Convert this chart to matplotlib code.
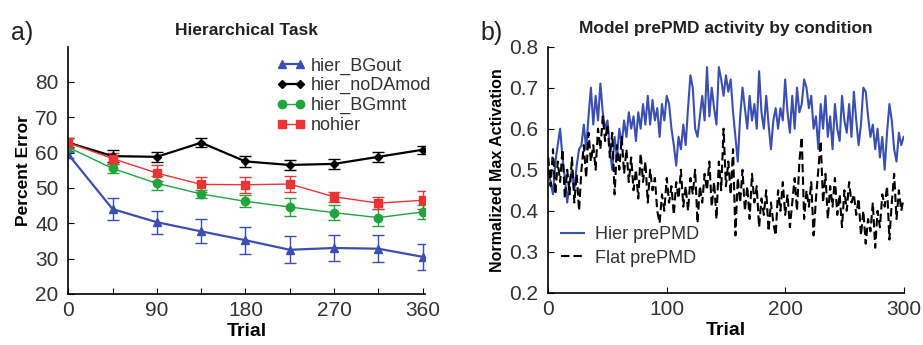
import numpy as np
import matplotlib.pyplot as plt
from matplotlib.lines import Line2D

plt.rcParams['font.family'] = ['Liberation Sans', 'DejaVu Sans']

# ---- panel a data ----
trials_a = [0, 45, 90, 135, 180, 225, 270, 315, 360]
bgout = [59.5, 44.0, 40.3, 37.7, 35.2, 32.5, 33.0, 32.8, 30.5]
bgout_err = [1.0, 3.2, 3.3, 3.4, 3.8, 3.8, 3.8, 3.8, 3.7]
nodamod = [62.8, 59.0, 58.8, 62.8, 57.5, 56.5, 56.8, 58.8, 60.8]
nodamod_err = [1.2, 1.6, 1.4, 1.3, 1.5, 1.5, 1.4, 1.4, 1.1]
bgmnt = [61.5, 55.5, 51.3, 48.3, 46.2, 44.6, 43.0, 41.6, 43.2]
bgmnt_err = [1.2, 1.3, 2.0, 1.2, 1.7, 2.5, 2.2, 2.3, 1.9]
nohier = [62.8, 58.3, 54.2, 51.0, 50.9, 51.1, 47.5, 45.7, 46.5]
nohier_err = [1.4, 1.6, 2.2, 2.2, 2.2, 2.2, 1.4, 1.6, 2.5]

# ---- panel b data (every 2nd trial) ----
trials_b = list(range(0, 301, 2))
hier_act = [0.50, 0.47, 0.44, 0.52, 0.56, 0.60, 0.53, 0.48, 0.42, 0.47,
            0.50, 0.45, 0.51, 0.55, 0.56, 0.61, 0.55, 0.63, 0.70, 0.61,
            0.68, 0.62, 0.71, 0.64, 0.60, 0.62, 0.55, 0.50, 0.58, 0.53,
            0.60, 0.56, 0.62, 0.58, 0.64, 0.60, 0.63, 0.57, 0.64, 0.60,
            0.66, 0.61, 0.68, 0.61, 0.67, 0.62, 0.65, 0.58, 0.66, 0.62,
            0.68, 0.66, 0.60, 0.56, 0.51, 0.58, 0.55, 0.61, 0.56, 0.65,
            0.73, 0.70, 0.60, 0.58, 0.63, 0.68, 0.62, 0.75, 0.63, 0.70,
            0.65, 0.61, 0.75, 0.72, 0.68, 0.73, 0.69, 0.72, 0.64, 0.58,
            0.52, 0.63, 0.70, 0.65, 0.60, 0.68, 0.62, 0.66, 0.60, 0.74,
            0.64, 0.60, 0.68, 0.61, 0.55, 0.62, 0.65, 0.60, 0.65, 0.62,
            0.72, 0.64, 0.59, 0.68, 0.60, 0.70, 0.64, 0.66, 0.72, 0.70,
            0.65, 0.68, 0.60, 0.63, 0.55, 0.66, 0.60, 0.68, 0.58, 0.63,
            0.55, 0.66, 0.60, 0.57, 0.68, 0.62, 0.59, 0.66, 0.58, 0.69,
            0.62, 0.56, 0.61, 0.70, 0.69, 0.63, 0.58, 0.61, 0.55, 0.60,
            0.53, 0.58, 0.50, 0.59, 0.66, 0.62, 0.55, 0.52, 0.59, 0.56,
            0.58]
flat_act = [0.53, 0.46, 0.55, 0.44, 0.52, 0.47, 0.55, 0.43, 0.50, 0.44,
            0.53, 0.42, 0.49, 0.40, 0.50, 0.56, 0.48, 0.59, 0.52, 0.56,
            0.50, 0.60, 0.55, 0.63, 0.57, 0.61, 0.53, 0.59, 0.44, 0.56,
            0.50, 0.58, 0.49, 0.55, 0.47, 0.53, 0.45, 0.50, 0.43, 0.54,
            0.47, 0.52, 0.42, 0.50, 0.45, 0.48, 0.40, 0.37, 0.44, 0.40,
            0.48, 0.42, 0.46, 0.39, 0.47, 0.43, 0.50, 0.41, 0.46, 0.40,
            0.48, 0.44, 0.50, 0.37, 0.46, 0.42, 0.49, 0.45, 0.52, 0.41,
            0.47, 0.38, 0.52, 0.45, 0.60, 0.46, 0.52, 0.44, 0.55, 0.34,
            0.48, 0.42, 0.50, 0.40, 0.46, 0.38, 0.49, 0.42, 0.46, 0.36,
            0.43, 0.39, 0.45, 0.35, 0.42, 0.37, 0.34, 0.45, 0.40, 0.47,
            0.39, 0.44, 0.36, 0.42, 0.48, 0.40, 0.52, 0.58, 0.38, 0.45,
            0.41, 0.47, 0.34, 0.43, 0.50, 0.57, 0.42, 0.49, 0.38, 0.46,
            0.41, 0.48, 0.39, 0.44, 0.36, 0.45, 0.40, 0.47, 0.42, 0.44,
            0.39, 0.43, 0.34, 0.40, 0.32, 0.38, 0.35, 0.42, 0.31, 0.40,
            0.36, 0.44, 0.41, 0.46, 0.33, 0.42, 0.49, 0.38, 0.45, 0.40,
            0.43]

blue = '#3b4fb3'
green = '#1fa53c'
red = '#ec3434'
tick_col = '#333333'

fig = plt.figure(figsize=(9.23, 3.45), dpi=100)
ax1 = fig.add_axes([0.074, 0.148, 0.386, 0.717])
ax2 = fig.add_axes([0.594, 0.151, 0.385, 0.714])

for ax in (ax1, ax2):
    ax.spines['top'].set_visible(False)
    ax.spines['right'].set_visible(False)
    ax.spines['left'].set_linewidth(1.2)
    ax.spines['bottom'].set_linewidth(1.2)
    ax.tick_params(direction='in', length=4, labelsize=15, colors='black',
                   labelcolor=tick_col)
    ax.tick_params(axis='x', pad=5)
    ax.tick_params(axis='y', pad=7)

# panel a
series = [(bgout, bgout_err, blue, '^', 'hier_BGout', 1.6),
          (nodamod, nodamod_err, 'black', 'D', 'hier_noDAmod', 1.6),
          (bgmnt, bgmnt_err, green, 'o', 'hier_BGmnt', 1.0),
          (nohier, nohier_err, red, 's', 'nohier', 1.0)]
handles = []
for vals, err, col, mk, lab, lw in series:
    ms = 4.5 if mk == 'D' else 6
    ax1.errorbar(trials_a, vals, yerr=err, color=col, marker=mk, ms=ms,
                 lw=lw, elinewidth=1.0, capsize=4, capthick=1.0)
    handles.append(Line2D([], [], color=col, marker=mk, ms=ms, lw=lw,
                          label=lab))
ax1.set_xlim(0, 362)
ax1.set_ylim(20, 90)
ax1.set_yticks([20, 30, 40, 50, 60, 70, 80])
ax1.set_xticks(trials_a)
ax1.set_xticklabels(['0', '', '90', '', '180', '', '270', '', '360'])
ax1.set_xlabel('Trial', fontsize=14, fontweight='bold', labelpad=2)
ax1.set_ylabel('Percent Error', fontsize=12.5, fontweight='bold', labelpad=3)
ax1.set_title('Hierarchical Task', fontsize=12.5, fontweight='bold', pad=8,
              color='#222222')
leg = ax1.legend(handles=handles, loc='upper right',
                 bbox_to_anchor=(1.05, 1.0), frameon=False, numpoints=2,
                 fontsize=13, handlelength=1.6, handletextpad=0.3,
                 labelspacing=0.15, borderaxespad=0.2)
for t in leg.get_texts():
    t.set_color(tick_col)
fig.text(0.012, 0.885, 'a)', fontsize=18, color='#222222')

# panel b
ax2.plot(trials_b, hier_act, color=blue, lw=1.5, label='Hier prePMD')
ax2.plot(trials_b, flat_act, color='black', lw=1.5, ls=(0, (4, 2)),
         label='Flat prePMD')
ax2.set_xlim(0, 300)
ax2.set_ylim(0.2, 0.8)
ax2.set_xticks([0, 100, 200, 300])
ax2.set_yticks([0.2, 0.3, 0.4, 0.5, 0.6, 0.7, 0.8])
ax2.set_xlabel('Trial', fontsize=14, fontweight='bold', labelpad=2)
ax2.set_ylabel('Normalized Max Activation', fontsize=11.5, fontweight='bold',
               labelpad=3)
ax2.set_title('Model prePMD activity by condition', fontsize=12.5,
              fontweight='bold', pad=10, color='#222222')
leg2 = ax2.legend(loc='lower left', bbox_to_anchor=(-0.01, 0.04), frameon=False,
                  fontsize=13, handlelength=1.3, handletextpad=0.6,
                  labelspacing=0.35)
for t in leg2.get_texts():
    t.set_color(tick_col)
fig.text(0.521, 0.885, 'b)', fontsize=18, color='#222222')

fig.savefig('out.png', dpi=100)
